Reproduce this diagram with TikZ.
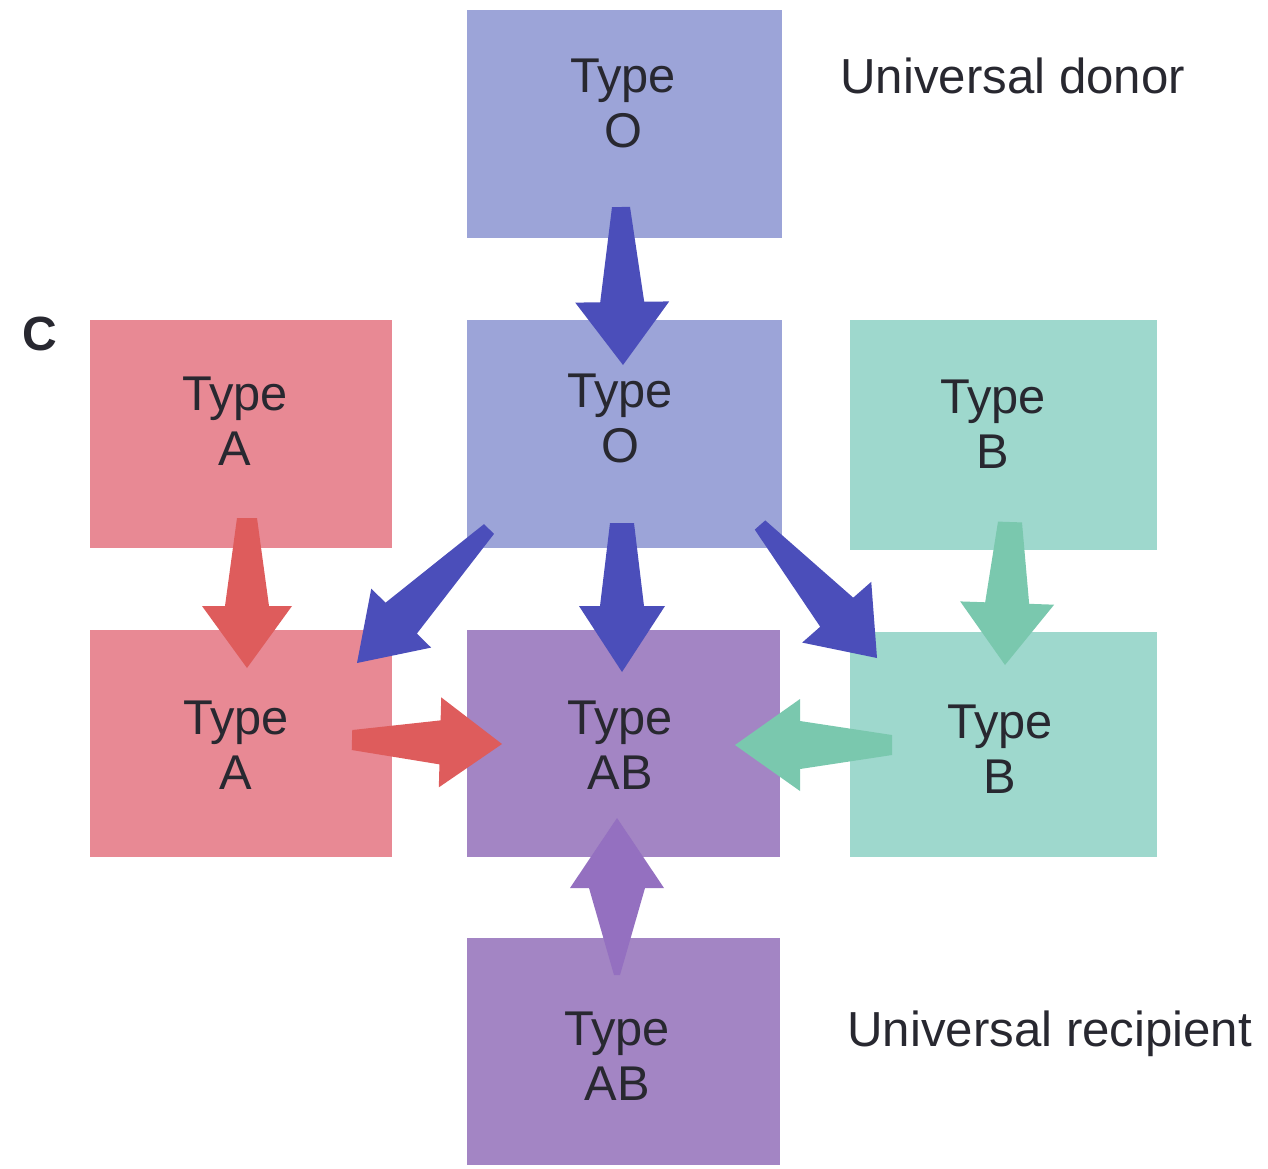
\documentclass[tikz,border=0pt]{standalone}
\usepackage{fontspec}
\setmainfont{Liberation Sans}
\usetikzlibrary{calc}
\definecolor{oBox}{RGB}{156,164,216}
\definecolor{oArrow}{RGB}{75,78,186}
\definecolor{aBox}{RGB}{232,137,148}
\definecolor{aArrow}{RGB}{222,92,92}
\definecolor{bBox}{RGB}{158,216,205}
\definecolor{bArrow}{RGB}{122,200,174}
\definecolor{abBox}{RGB}{163,133,196}
\definecolor{abArrow}{RGB}{148,112,192}
\definecolor{ink}{RGB}{40,40,48}
\newcommand\bigarrow[7]{% colour, tail, tip, tail hw, shaft hw, head hw, head length
  \coordinate (hb) at ($(#3)!#7!(#2)$);
  \fill[#1] ($(#2)!#4!90:(#3)$) -- ($(hb)!#5!90:(#3)$) -- ($(hb)!#6!90:(#3)$) -- (#3)
    -- ($(hb)!#6!-90:(#3)$) -- ($(hb)!#5!-90:(#3)$) -- ($(#2)!#4!-90:(#3)$) -- cycle;
}
\tikzset{
  box/.style={rectangle, inner sep=0pt, minimum height=114pt},
  lbl/.style={align=center, inner sep=0pt, text=ink, font=\fontsize{24.4}{27.5}\selectfont},
  note/.style={inner sep=0pt, text=ink, font=\fontsize{24.6}{27.5}\selectfont}
}
\begin{document}
\begin{tikzpicture}[x=0.5pt, y=-0.5pt]
\useasboundingbox (0,0) rectangle (1268,1168);
% boxes
\node[box, fill=oBox, minimum width=157.5pt] (O1) at (624.5,124) {};
\node[box, fill=oBox, minimum width=157.5pt] (O2) at (624.5,434) {};
\node[box, fill=aBox, minimum width=151pt] (A1) at (241,434) {};
\node[box, fill=bBox, minimum width=153.5pt, minimum height=115pt] (B1) at (1003.5,435) {};
\node[box, fill=aBox, minimum width=151pt, minimum height=113.5pt] (A2) at (241,743.5) {};
\node[box, fill=abBox, minimum width=156.5pt, minimum height=113.5pt] (AB1) at (623.5,743.5) {};
\node[box, fill=bBox, minimum width=153.5pt, minimum height=112.5pt] (B2) at (1003.5,744.5) {};
\node[box, fill=abBox, minimum width=156.5pt, minimum height=113.5pt] (AB2) at (623.5,1051.5) {};
% arrow end points
\coordinate (t1) at (621,207);  \coordinate (h1) at (623,365);
\coordinate (t2) at (622,523);  \coordinate (h2) at (622,672);
\coordinate (t3) at (489,529);  \coordinate (h3) at (357,663);
\coordinate (t4) at (760,525);  \coordinate (h4) at (877,658);
\coordinate (t5) at (247,518);  \coordinate (h5) at (247,668);
\coordinate (t6) at (1010,522); \coordinate (h6) at (1005,665);
\coordinate (t7) at (352,740);  \coordinate (h7) at (502,744);
\coordinate (t8) at (892,745);  \coordinate (h8) at (735,745);
\coordinate (t9) at (617,975);  \coordinate (h9) at (617,818);
% arrows
\bigarrow{oArrow}{t1}{h1}{4.5pt}{11pt}{23.5pt}{31.5pt}
\bigarrow{oArrow}{t2}{h2}{6pt}{11pt}{21.5pt}{33pt}
\bigarrow{oArrow}{t3}{h3}{3.5pt}{11pt}{21pt}{31.5pt}
\bigarrow{oArrow}{t4}{h4}{3.5pt}{11pt}{23pt}{30.5pt}
\bigarrow{aArrow}{t5}{h5}{5pt}{11pt}{22.5pt}{31pt}
\bigarrow{bArrow}{t6}{h6}{6pt}{11pt}{23.5pt}{31pt}
\bigarrow{aArrow}{t7}{h7}{5pt}{11pt}{22.5pt}{31pt}
\bigarrow{bArrow}{t8}{h8}{5pt}{12pt}{23pt}{32.5pt}
\bigarrow{abArrow}{t9}{h9}{1.5pt}{14pt}{23.5pt}{35pt}
% labels
\node[lbl] (lO1) at (623,103) {Type\\O};
\node[lbl] (lO2) at (620,418) {Type\\O};
\node[lbl] (lA1) at (235,421) {Type\\A};
\node[lbl] (lB1) at (993,424) {Type\\B};
\node[lbl] (lA2) at (236,745) {Type\\A};
\node[lbl] (lAB1) at (620,745) {Type\\AB};
\node[lbl] (lB2) at (1000,749) {Type\\B};
\node[lbl] (lAB2) at (617,1056) {Type\\AB};
\node[note, anchor=base west] (donor) at (840,93) {Universal donor};
\node[note, anchor=base west] (recip) at (847,1046) {Universal recipient};
\node[note, anchor=base west, font=\fontsize{24}{27.5}\selectfont\bfseries] (C) at (22,350) {C};
\end{tikzpicture}
\end{document}
